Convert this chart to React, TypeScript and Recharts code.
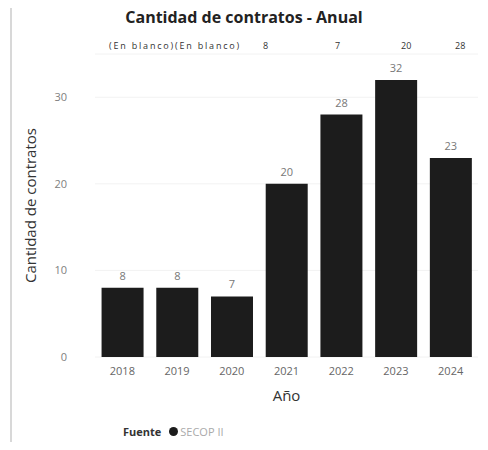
import { Bar, BarChart, CartesianGrid, LabelList, XAxis, YAxis, Label } from "recharts";

const years = ["2018", "2019", "2020", "2021", "2022", "2023", "2024"];
const contratos = [8, 8, 7, 20, 28, 32, 23];
const topRowLabels = ["(En blanco)(En blanco)", "8", "7", "20", "28"];
const yTicks = [0, 10, 20, 30];

const data = years.map((year, i) => ({ year, value: contratos[i] }));

const FONT = "'Open Sans', 'DejaVu Sans', sans-serif";

export default function App() {
  return (
    <div
      style={{
        position: "relative",
        width: 488,
        height: 450,
        margin: -8,
        background: "#fff",
        fontFamily: FONT,
        overflow: "hidden",
      }}
    >
      <div
        style={{
          position: "absolute",
          left: 10,
          top: 5,
          width: 480,
          height: 438,
          borderLeft: "2px solid #d8d8d8",
          borderTop: "2px solid #e4e4e4",
          borderBottom: "1px solid #eee",
        }}
      />
      <div
        style={{
          position: "absolute",
          left: 0,
          width: 488,
          top: 6,
          textAlign: "center",
          fontWeight: 700,
          fontSize: 16,
          color: "#222",
        }}
      >
        Cantidad de contratos - Anual
      </div>
      <div style={{ position: "absolute", top: 39, left: 0, width: 488, height: 14, fontSize: 9, color: "#333" }}>
        <span style={{ position: "absolute", left: 109, letterSpacing: 1.8 }}>{topRowLabels[0]}</span>
        <span style={{ position: "absolute", left: 263 }}>{topRowLabels[1]}</span>
        <span style={{ position: "absolute", left: 335 }}>{topRowLabels[2]}</span>
        <span style={{ position: "absolute", left: 401 }}>{topRowLabels[3]}</span>
        <span style={{ position: "absolute", left: 455 }}>{topRowLabels[4]}</span>
      </div>
      <div style={{ position: "absolute", left: 0, top: 0 }}>
        <BarChart
          width={488}
          height={450}
          data={data}
          margin={{ top: 54, right: 10, bottom: 45, left: 25 }}
          barCategoryGap="12%"
        >
          <CartesianGrid vertical={false} stroke="#f2f2f2" />
          <XAxis
            dataKey="year"
            axisLine={false}
            tickLine={false}
            height={48}
            tick={{ fill: "#666", fontSize: 11, fontFamily: FONT }}
            tickMargin={4}
          >
            <Label value="Año" position="insideBottom" offset={4} style={{ fill: "#333", fontSize: 15, fontFamily: FONT }} />
          </XAxis>
          <YAxis
            domain={[0, 35]}
            ticks={yTicks}
            axisLine={false}
            tickLine={false}
            width={70}
            tickMargin={22}
            tick={{ fill: "#808080", fontSize: 11, fontFamily: FONT }}
          >
            <Label
              value="Cantidad de contratos"
              angle={-90}
              position="insideLeft"
              offset={6}
              style={{ textAnchor: "middle", fill: "#333", fontSize: 15, fontFamily: FONT }}
            />
          </YAxis>
          <Bar dataKey="value" fill="#1c1c1c" isAnimationActive={false}>
            <LabelList dataKey="value" position="top" offset={8} style={{ fill: "#777", fontSize: 11, fontFamily: FONT }} />
          </Bar>
        </BarChart>
      </div>
      <div
        style={{
          position: "absolute",
          top: 424,
          left: 123,
          fontSize: 11,
          display: "flex",
          alignItems: "center",
        }}
      >
        <span style={{ fontWeight: 700, color: "#333", marginRight: 8 }}>Fuente</span>
        <span style={{ width: 9, height: 9, borderRadius: "50%", background: "#1c1c1c", display: "inline-block", marginRight: 2 }} />
        <span style={{ color: "#aaa" }}>SECOP II</span>
      </div>
    </div>
  );
}
